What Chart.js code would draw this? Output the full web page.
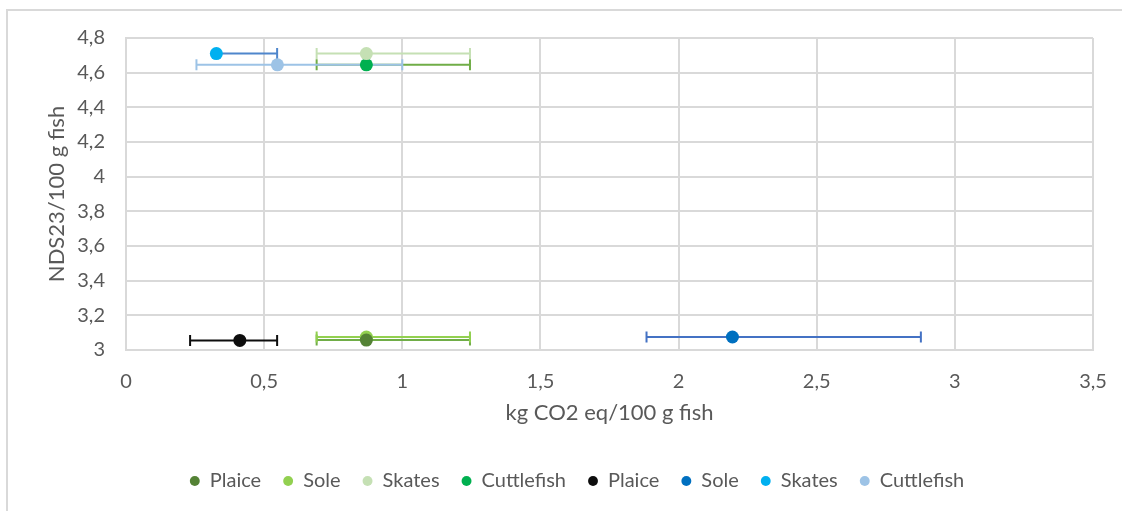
<!DOCTYPE html>
<html>
<head>
<meta charset="utf-8">
<script src="https://cdn.jsdelivr.net/npm/chart.js@4.4.1/dist/chart.umd.min.js"></script>
<style>
  html, body { margin: 0; padding: 0; background: #ffffff; overflow: hidden; }
  #wrap { position: relative; width: 1122px; height: 511px; }
  #frame { position: absolute; left: 6px; top: 9px; width: 1200px; height: 600px;
           border: 2px solid #d9d9d9; box-sizing: border-box; pointer-events: none; }
  canvas { position: absolute; left: 0; top: 0; }
</style>
</head>
<body>
<div id="wrap">
  <div id="frame"></div>
  <canvas id="c" width="1122" height="511"></canvas>
</div>
<script>
// Species, the two series groups and their values
const species = ['Plaice', 'Sole', 'Skates', 'Cuttlefish'];

// Group A: carbon footprint (x), nutrient density score (y) and x-range
const groupA_x    = [0.87, 0.87, 0.87, 0.87];
const groupA_y    = [3.057, 3.075, 4.71, 4.645];
const groupA_xMin = [0.69, 0.69, 0.69, 0.69];
const groupA_xMax = [1.245, 1.245, 1.245, 1.245];

// Group B
const groupB_x    = [0.412, 2.195, 0.327, 0.548];
const groupB_y    = [3.055, 3.075, 4.71, 4.645];
const groupB_xMin = [0.232, 1.884, 0.327, 0.255];
const groupB_xMax = [0.547, 2.877, 0.547, 1.0];

// Axis ticks
const xTicks = [0, 0.5, 1, 1.5, 2, 2.5, 3, 3.5];
const yTicks = [3, 3.2, 3.4, 3.6, 3.8, 4, 4.2, 4.4, 4.6, 4.8];

const markerA = ['#548235', '#92d050', '#c5e0b4', '#00b050'];
const barA    = ['#70ad47', '#92d050', '#c5e0b4', '#70ad47'];
const markerB = ['#0d0d0d', '#0070c0', '#00b0f0', '#9dc3e6'];
const barB    = ['#0d0d0d', '#4472c4', '#4f86cc', '#9dc3e6'];

function makeSet(i, xs, ys, lo, hi, mk, bar) {
  return {
    label: species[i],
    data: [{ x: xs[i], y: ys[i], xMin: lo[i], xMax: hi[i] }],
    backgroundColor: mk[i],
    borderColor: mk[i],
    pointRadius: 6.5,
    pointHoverRadius: 6.5,
    borderWidth: 0,
    errorColor: bar[i]
  };
}

const datasets = [];
species.forEach((s, i) => datasets.push(makeSet(i, groupA_x, groupA_y, groupA_xMin, groupA_xMax, markerA, barA)));
species.forEach((s, i) => datasets.push(makeSet(i, groupB_x, groupB_y, groupB_xMin, groupB_xMax, markerB, barB)));

// Horizontal error bars with end caps, drawn under the markers
const errorBars = {
  id: 'errorBars',
  beforeDatasetsDraw(chart) {
    const { ctx, scales: { x, y } } = chart;
    ctx.save();
    chart.data.datasets.forEach(ds => {
      ds.data.forEach(p => {
        const py = y.getPixelForValue(p.y);
        const x0 = x.getPixelForValue(p.xMin);
        const x1 = x.getPixelForValue(p.xMax);
        ctx.strokeStyle = ds.errorColor;
        ctx.lineWidth = 2;
        ctx.beginPath();
        ctx.moveTo(x0, py); ctx.lineTo(x1, py);
        ctx.moveTo(x1, py - 5.5); ctx.lineTo(x1, py + 5.5);
        if (p.xMin < p.x) { ctx.moveTo(x0, py - 5.5); ctx.lineTo(x0, py + 5.5); }
        ctx.stroke();
      });
    });
    ctx.restore();
  }
};

const fmt = v => String(Math.round(v * 10) / 10).replace('.', ',');
const FONT = 'Lato, "Open Sans", sans-serif';

new Chart(document.getElementById('c'), {
  type: 'scatter',
  data: { datasets },
  plugins: [errorBars],
  options: {
    responsive: false,
    animation: false,
    events: [],
    layout: { padding: { left: 61, right: 29, top: 38, bottom: 10 } },
    plugins: {
      tooltip: { enabled: false },
      legend: {
        position: 'bottom',
        labels: {
          usePointStyle: true,
          pointStyle: 'circle',
          boxWidth: 10,
          boxHeight: 7,
          padding: 22,
          color: '#595959',
          font: { family: FONT, size: 20 }
        }
      }
    },
    scales: {
      x: {
        type: 'linear',
        min: 0, max: 3.5,
        afterBuildTicks: s => { s.ticks = xTicks.map(v => ({ value: v })); },
        afterFit: s => { s.height = 99; },
        grid: { color: '#d9d9d9', lineWidth: 2, drawTicks: true, tickLength: 20, tickColor: 'rgba(0,0,0,0)' },
        border: { color: '#d9d9d9', width: 2 },
        ticks: { padding: 0, color: '#595959', font: { family: FONT, size: 20 }, callback: fmt },
        title: { display: true, text: 'kg CO2 eq/100 g fish', color: '#595959',
                 font: { family: FONT, size: 22 }, padding: { top: 0, bottom: 23 } }
      },
      y: {
        type: 'linear',
        min: 3, max: 4.8,
        afterBuildTicks: s => { s.ticks = yTicks.map(v => ({ value: v })); },
        afterFit: s => { s.width = 65; },
        grid: { color: '#d9d9d9', lineWidth: 2, drawTicks: false },
        border: { color: '#d9d9d9', width: 2 },
        ticks: { padding: 21, color: '#595959', font: { family: FONT, size: 20 }, callback: fmt },
        title: { display: true, text: 'NDS23/100 g fish', color: '#595959',
                 font: { family: FONT, size: 22 }, padding: { top: -17, bottom: 0 } }
      }
    }
  }
});
</script>
</body>
</html>
